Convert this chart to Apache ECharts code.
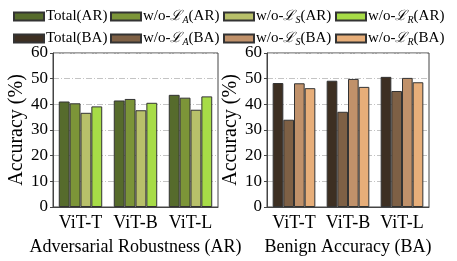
<!DOCTYPE html>
<html><head><meta charset="utf-8">
<script src="https://cdn.jsdelivr.net/npm/echarts@6/dist/echarts.min.js"></script>
<style>html,body{margin:0;padding:0;background:#fff}#c{width:457px;height:261px}</style>
</head><body><div id="c"></div>
<script>
const categories = ['ViT-T', 'ViT-B', 'ViT-L'];
const arNames = ['Total(AR)', 'w/o-LA(AR)', 'w/o-LS(AR)', 'w/o-LR(AR)'];
const baNames = ['Total(BA)', 'w/o-LA(BA)', 'w/o-LS(BA)', 'w/o-LR(BA)'];
const arTotal = [41.1, 41.5, 43.7];
const arNoA = [40.4, 42.1, 42.6];
const arNoS = [36.7, 37.7, 37.9];
const arNoR = [39.2, 40.6, 43.1];
const baTotal = [48.3, 49.2, 50.7];
const baNoA = [34.0, 37.1, 45.2];
const baNoS = [48.2, 49.9, 50.3];
const baNoR = [46.3, 46.8, 48.6];
const yTicks = [0, 10, 20, 30, 40, 50, 60];

const arColors = ['#566b2c', '#7c9538', '#b8c06a', '#a7dc47'];
const baColors = ['#3d2f22', '#7e6045', '#c0916a', '#e7ae79'];
const FONT = 'Liberation Serif';

const arData = [arTotal, arNoA, arNoS, arNoR];
const baData = [baTotal, baNoA, baNoS, baNoR];

function legendLabel(name) {
  const m = name.match(/^w\/o-L([ASR])\((AR|BA)\)$/);
  if (!m) return name;
  return 'w/o-{s|ℒ}{sub|' + m[1] + '}(' + m[2] + ')';
}

const legendX = [13, 110, 223, 335];
const legendY = [9, 31];
const legends = [];
[arNames, baNames].forEach((names, r) => {
  names.forEach((n, i) => {
    legends.push({
      left: legendX[i], top: legendY[r],
      data: [n], itemWidth: 30, itemHeight: 8, itemGap: 0, padding: 0,
      icon: 'rect',
      formatter: legendLabel,
      textStyle: {
        fontFamily: FONT, fontSize: 15, color: '#000', padding: [0, 0, 0, -3],
        rich: {
          s: { fontFamily: 'DejaVu Serif', fontStyle: 'italic', fontSize: 14, color: '#000' },
          sub: { fontFamily: FONT, fontStyle: 'italic', fontSize: 10, color: '#000', padding: [8, 0, 0, 0] }
        }
      }
    });
  });
});

function yAxis(gi) {
  return {
    gridIndex: gi, type: 'value', min: 0, max: 60, interval: 10,
    name: 'Accuracy (%)', nameLocation: 'middle', nameGap: 26,
    nameTextStyle: { fontFamily: FONT, fontSize: 20, color: '#000' },
    axisLine: { show: true, lineStyle: { color: '#444', width: 1 } },
    axisTick: { show: true, length: 3, lineStyle: { color: '#444' } },
    axisLabel: { fontFamily: FONT, fontSize: 17, color: '#000', margin: 5,
      formatter: v => yTicks.includes(v) ? String(v) : '' },
    splitLine: { show: true, lineStyle: { color: '#c4c4c4', width: 1, type: [6, 2, 1, 2] } }
  };
}
function xAxis(gi, title) {
  return {
    gridIndex: gi, type: 'category', data: categories,
    name: title, nameLocation: 'middle', nameGap: 31,
    nameTextStyle: { fontFamily: FONT, fontSize: 18, color: '#000' },
    axisLine: { show: true, lineStyle: { color: '#444', width: 1 } },
    axisTick: { show: false },
    axisLabel: { fontFamily: FONT, fontSize: 18, color: '#000', margin: 7, interval: 0, hideOverlap: false }
  };
}

const series = [];
arNames.forEach((n, i) => series.push({
  name: n, type: 'bar', xAxisIndex: 0, yAxisIndex: 0, data: arData[i],
  barGap: '0%', barCategoryGap: '21%',
  itemStyle: { color: arColors[i], borderColor: '#333', borderWidth: 1 }
}));
baNames.forEach((n, i) => series.push({
  name: n, type: 'bar', xAxisIndex: 1, yAxisIndex: 1, data: baData[i],
  barGap: '0%', barCategoryGap: '21%',
  itemStyle: { color: baColors[i], borderColor: '#333', borderWidth: 1 }
}));

const chart = echarts.init(document.getElementById('c'), null, { renderer: 'canvas' });
chart.setOption({
  animation: false,
  legend: legends,
  grid: [
    { left: 53, right: 239, top: 53, bottom: 48, show: true, borderColor: '#444', borderWidth: 1 },
    { left: 267, right: 28, top: 53, bottom: 48, show: true, borderColor: '#444', borderWidth: 1 }
  ],
  xAxis: [xAxis(0, 'Adversarial Robustness (AR)'), xAxis(1, 'Benign Accuracy (BA)')],
  yAxis: [yAxis(0), yAxis(1)],
  series: series
});
</script></body></html>
